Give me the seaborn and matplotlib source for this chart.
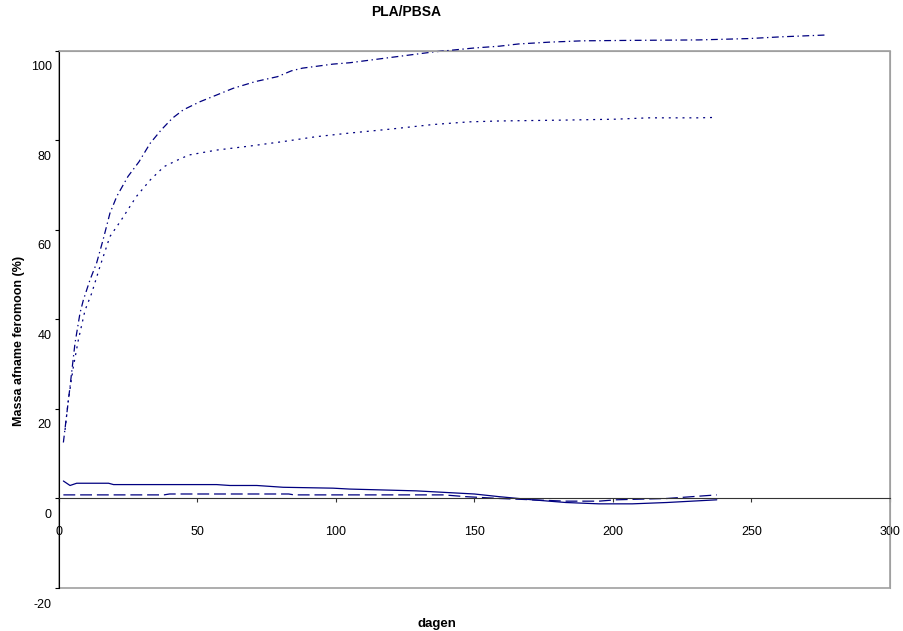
import matplotlib
matplotlib.use("Agg")
import matplotlib.pyplot as plt
import matplotlib.transforms as mtransforms
from matplotlib.patches import Rectangle
import seaborn as sns

# data
days_dashdot = [1.7, 4.1, 5.9, 7.7, 8.9, 11.3, 13.7, 16, 18.5, 21, 25, 29, 33, 37, 41, 45, 51, 57, 63, 71,
                79, 84, 88, 99, 105, 120, 135, 150, 159, 166, 177, 189, 207, 231, 249, 261, 277]
mass_dashdot = [12.5, 25, 34.7, 41.4, 44.3, 48.8, 52.6, 57.7, 63.7, 67.5, 71.9, 75.2, 79.3, 82.3, 84.9, 86.8,
                88.6, 90.1, 91.6, 93.1, 94.2, 95.5, 96.1, 97, 97.3, 98.5, 99.7, 100.6, 101, 101.5, 101.9,
                102.2, 102.3, 102.4, 102.7, 103.1, 103.5]

days_dotted = [2.3, 3.5, 5.3, 7.1, 9.5, 11.9, 14.9, 18.5, 22.4, 28, 33, 38, 43, 47, 57, 69, 81, 93, 105,
               120, 135, 148, 159, 183, 201, 213, 231, 237.5]
mass_dotted = [15.3, 22, 29.4, 35.4, 42, 45.8, 51.8, 58.5, 62, 67.4, 71.1, 74.1, 75.6, 76.7, 77.8, 78.7,
               79.7, 80.8, 81.6, 82.5, 83.5, 84.1, 84.3, 84.5, 84.7, 85, 85, 85.1]

days_solid = [1.7, 4.1, 6.5, 18, 19.8, 57, 61.8, 71.5, 81, 99, 105, 129, 150, 159, 171, 183, 195, 207,
              219.5, 237.5]
mass_solid = [3.9, 2.9, 3.4, 3.4, 3.1, 3.1, 2.9, 2.9, 2.5, 2.3, 2.1, 1.7, 1.0, 0.4, -0.3, -0.9, -1.2,
              -1.2, -0.9, -0.3]

days_dashed = [1.7, 38, 40, 83, 85, 139, 147, 159, 171, 183, 195, 201, 207, 219.5, 237.5]
mass_dashed = [0.8, 0.8, 1.0, 1.0, 0.8, 0.8, 0.4, 0, -0.3, -0.6, -0.6, -0.3, -0.2, 0, 0.8]

x_ticks = [0, 50, 100, 150, 200, 250, 300]
y_ticks = [-20, 0, 20, 40, 60, 80, 100]

sns.set_style("white")
plt.rcParams['font.family'] = ['Liberation Sans', 'DejaVu Sans']
plt.rcParams['axes.unicode_minus'] = False
plt.rcParams['text.color'] = 'black'
plt.rcParams['axes.labelcolor'] = 'black'

fig = plt.figure(figsize=(9.04, 6.31), dpi=100)
ax = fig.add_axes([0.0649, 0.0681, 0.9196, 0.8516])

navy = "#000080"
sns.lineplot(x=days_dashdot, y=mass_dashdot, ax=ax, color=navy, linewidth=0.9,
             linestyle=(0, (5.5, 2.8, 1.1, 2.8)), estimator=None, sort=False, clip_on=False)
sns.lineplot(x=days_dotted, y=mass_dotted, ax=ax, color=navy, linewidth=0.9,
             linestyle=(0, (1.6, 3.9)), estimator=None, sort=False)
sns.lineplot(x=days_solid, y=mass_solid, ax=ax, color=navy, linewidth=0.9,
             estimator=None, sort=False)
sns.lineplot(x=days_dashed, y=mass_dashed, ax=ax, color=navy, linewidth=0.9,
             linestyle=(0, (9.5, 3.9)), estimator=None, sort=False)

ax.set_xlim(0, 300)
ax.set_ylim(-20, 100)
ax.set_xticks(x_ticks)
ax.set_yticks(y_ticks)

# x axis crosses at y = 0, grey frame around the plot area
ax.spines['bottom'].set_position(('data', 0))
ax.spines['bottom'].set_color('#333333')
ax.spines['left'].set_color('black')
for s in ['top', 'right']:
    ax.spines[s].set_color('#a0a0a0')
ax.add_patch(Rectangle((0, 0), 1, 1, transform=ax.transAxes, fill=False,
                       edgecolor='#a0a0a0', linewidth=1.2, clip_on=False, zorder=0))

ax.tick_params(axis='x', direction='out', length=3, width=0.8, pad=17, labelsize=9, colors='#333333',
               labelcolor='black', bottom=True)
ax.tick_params(axis='y', direction='out', length=3, width=0.8, pad=2, labelsize=9, left=True,
               colors='black', labelcolor='black')

# y tick labels sit a bit below their ticks, like in the original
offset = mtransforms.ScaledTranslation(0, -0.15, fig.dpi_scale_trans)
for lbl in ax.get_yticklabels():
    lbl.set_transform(lbl.get_transform() + offset)

ax.set_xlabel("dagen", fontsize=9.5, fontweight='bold')
ax.xaxis.set_label_coords(0.455, -0.055)
ax.set_ylabel("Massa afname feromoon (%)", fontsize=9, fontweight='bold')
ax.yaxis.set_label_coords(-0.04, 0.46)
fig.text(0.449, 0.981, "PLA/PBSA", ha='center', va='center', fontsize=10, fontweight='bold')

fig.savefig("out.png", dpi=100)
